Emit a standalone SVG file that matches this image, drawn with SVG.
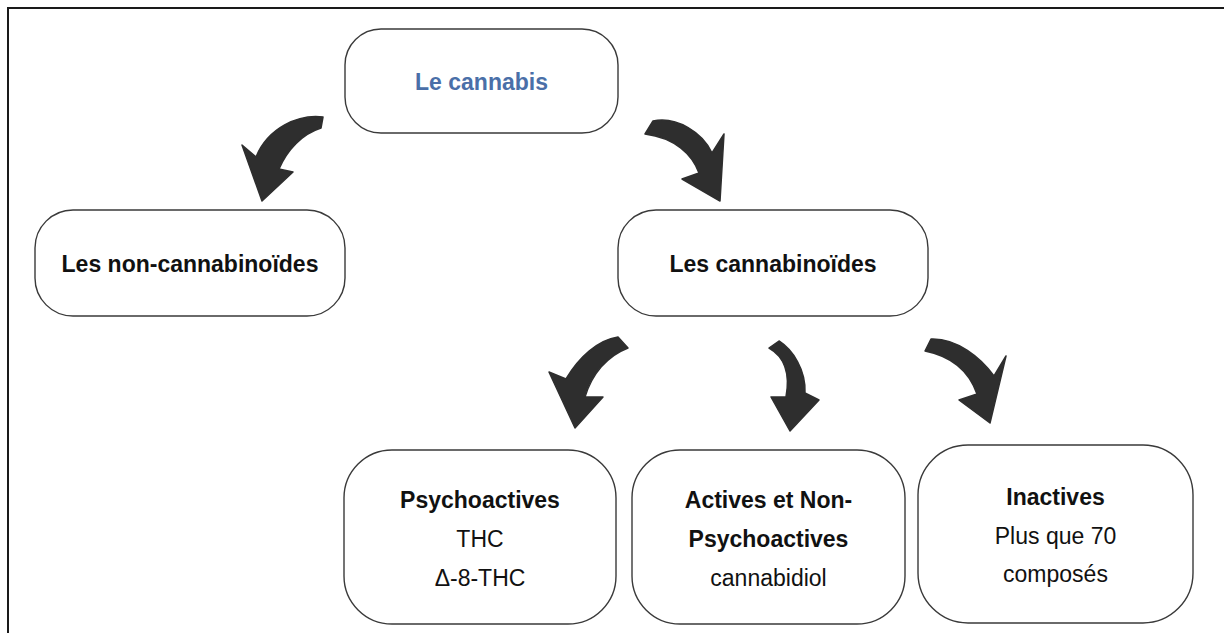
<svg xmlns="http://www.w3.org/2000/svg" width="1224" height="633" viewBox="0 0 1224 633">
<style>
.box{fill:#fff;stroke:#3a3a3a;stroke-width:1.4}
.t{font-family:"Liberation Sans",Arial,sans-serif;font-size:23px;text-anchor:middle;fill:#111}
.b{font-weight:bold}
.blue{fill:#4a6fa8}
.arr{fill:#2e2e2e;stroke:#2e2e2e;stroke-width:1.5;stroke-linejoin:round}
</style>
<rect width="1224" height="633" fill="#fff"/>
<rect x="8" y="8" width="1240" height="660" fill="none" stroke="#1a1a1a" stroke-width="2"/>
<g id="connectors">
<path class="arr" d="M323,117 C298,114 268,128 256,157 L242,145 L262,201 L293,172 L279,169 C287,150 302,134 321,128 Z"/>
<path class="arr" d="M653,121 C677,116 703,133 712,153 L724,134 L720,201 L682,179 L699,173 C692,154 675,138 645,134 Z"/>
<path class="arr" d="M618,337 C598,340 579,357 566,379 L549,372 L575,428 L603,397 L585,397 C592,374 607,356 628,348 Z"/>
<path class="arr" d="M779,341 C793,350 806,370 805,393 L819,400 L790,431 L771,397 L786,397 C790,375 785,357 769,348 Z"/>
<path class="arr" d="M931,339 C957,338 981,358 994,376 L1006,356 L990,423 L959,400 L977,394 C970,374 955,357 925,351 Z"/>
</g>
<g id="node-cannabis">
<rect class="box" x="345" y="29" width="273" height="104" rx="36"/>
<text class="t b blue" x="481.5" y="89.5">Le cannabis</text>
</g>
<g id="node-non-cannabinoides">
<rect class="box" x="35" y="210" width="310" height="106" rx="38"/>
<text class="t b" x="190" y="271.5">Les non-cannabinoïdes</text>
</g>
<g id="node-cannabinoides">
<rect class="box" x="618" y="210" width="310" height="106" rx="38"/>
<text class="t b" x="773" y="271.5">Les cannabinoïdes</text>
</g>
<g id="node-psychoactives">
<rect class="box" x="344" y="450" width="272" height="174" rx="48"/>
<text class="t b" x="480" y="508">Psychoactives</text>
<text class="t" x="480" y="547">THC</text>
<text class="t" x="480" y="586">Δ-8-THC</text>
</g>
<g id="node-actives">
<rect class="box" x="632" y="450" width="273" height="174" rx="48"/>
<text class="t b" x="768.5" y="508">Actives et Non-</text>
<text class="t b" x="768.5" y="547">Psychoactives</text>
<text class="t" x="768.5" y="586">cannabidiol</text>
</g>
<g id="node-inactives">
<rect class="box" x="918" y="445" width="275" height="178" rx="50"/>
<text class="t b" x="1055.5" y="505">Inactives</text>
<text class="t" x="1055.5" y="544">Plus que 70</text>
<text class="t" x="1055.5" y="582">composés</text>
</g>
</svg>
